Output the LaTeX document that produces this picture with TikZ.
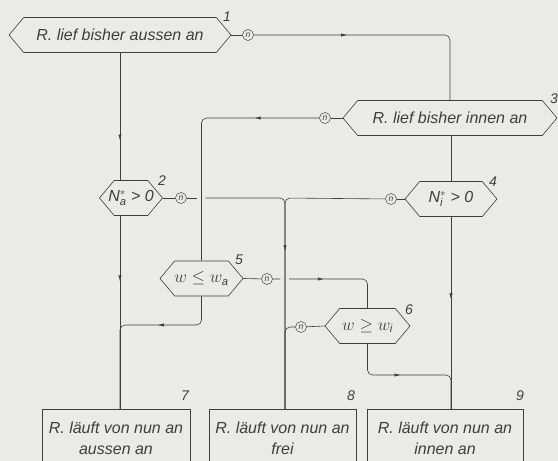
\documentclass[tikz,border=0pt]{standalone}
\usepackage{amsmath}
\usepackage{fontspec}
\setsansfont{Liberation Sans}
\usepackage{tikz}
\usetikzlibrary{arrows.meta,positioning,calc,shapes.symbols,decorations.markings}
\definecolor{paperbg}{RGB}{234,234,230}
\definecolor{inkgrey}{RGB}{62,62,62}
\tikzset{
  base/.style={font=\sffamily\itshape\fontsize{16}{21}\selectfont, text=inkgrey, align=center},
  hexa/.style={base, signal, signal to=west and east, signal pointer angle=100, draw=inkgrey, line width=0.6pt, minimum height=35pt, inner xsep=-8pt},
  outbox/.style={base, rectangle, draw=inkgrey, line width=0.6pt, anchor=north, inner ysep=13pt},
  nout/.style={circle, draw=inkgrey, line width=0.5pt, inner sep=0pt, minimum size=11pt, font=\sffamily\itshape\fontsize{8.5}{8.5}\selectfont, text=inkgrey},
  num/.style={font=\sffamily\itshape\fontsize{14}{14}\selectfont, text=inkgrey, inner sep=0pt},
  wire/.style={draw=inkgrey, line width=0.6pt, rounded corners=5pt},
  arr/.style={wire, postaction={decorate}, decoration={markings, mark=at position #1 with {\arrow{Latex[length=6pt,width=3.2pt]}}}},
}
\begin{document}
\begin{tikzpicture}[x=1pt,y=-1pt]
  \useasboundingbox (0,0) rectangle (558,461);
  \fill[paperbg] (0,0) rectangle (558,461);
  % decisions
  \node[hexa,minimum width=222pt] (n1) at (120,35) {R. lief bisher aussen an};
  \node[hexa,minimum width=214pt] (n3) at (450,118) {R. lief bisher innen an};
  \node[hexa,minimum width=63pt]  (n2) at (131,198) {N$^{*}_{\text{a}}$ > 0};
  \node[hexa,minimum width=92pt]  (n4) at (451,199) {N$^{*}_{\text{i}}$ > 0};
  \node[hexa,minimum width=83pt]  (n5) at (201.5,278.5) {$w \leq w_{\text{a}}$};
  \node[hexa,minimum width=85pt]  (n6) at (367.5,326) {$w \geq w_{\text{i}}$};
  % results
  \node[outbox,minimum width=148pt] (b7) at (116,409) {R. läuft von nun an\\aussen an};
  \node[outbox,minimum width=147pt] (b8) at (282.5,409) {R. läuft von nun an\\frei};
  \node[outbox,minimum width=156pt] (b9) at (445,409) {R. läuft von nun an\\innen an};
  % no-exits
  \node[nout] (c1) at (248,35) {n};
  \node[nout] (c3) at (325,118) {n};
  \node[nout] (c2) at (181,198) {n};
  \node[nout] (c4) at (391,199) {n};
  \node[nout] (c5) at (267,279) {n};
  \node[nout] (c6) at (301,327) {n};
  % numbers
  \node[num] (t1) at (227,17) {1};
  \node[num] (t2) at (162,181) {2};
  \node[num] (t3) at (554,99) {3};
  \node[num] (t4) at (493,182) {4};
  \node[num] (t5) at (239,260) {5};
  \node[num] (t6) at (409,310) {6};
  \node[num] (t7) at (185,396) {7};
  \node[num] (t8) at (351,396) {8};
  \node[num] (t9) at (520,396) {9};
  % helper points
  \coordinate (midcol) at (285,198);
  \coordinate (g2l) at ($(n5.north |- c2)+(-5,0)$);
  \coordinate (g2r) at ($(n5.north |- c2)+(4,0)$);
  \coordinate (g5l) at ($(midcol |- c5)+(-5,0)$);
  \coordinate (g5r) at ($(midcol |- c5)+(4,0)$);
  \coordinate (m5) at (120,325);
  \coordinate (m6) at (451,375);
  % connectors
  \draw[wire] (n1.east) -- (c1);
  \draw[arr=0.36] (c1) -| (n3.north);
  \draw[arr=0.69] (n1.south) -- (n1.south |- n2.north);
  \draw[wire] (n3.west) -- (c3);
  \draw[arr=0.25] (c3) -| (n5.north);
  \draw[wire] (n4.north |- n3.south) -- (n4.north);
  \draw[wire] (n2.east) -- (c2) -- (g2l);
  \draw[wire] (g2r) -- (midcol) -- (midcol |- b8.north);
  \draw[wire] (n4.west) -- (c4);
  \draw[arr=0.49] (c4) -- (midcol) -- (midcol |- b8.north);
  \draw[wire] (n6.west) -- (c6);
  \draw[wire] (c6) -- (midcol |- c6) -- (midcol |- b8.north);
  \draw[wire] (n5.east) -- (c5) -- (g5l);
  \draw[arr=0.33] (g5r) -- (n6.north |- g5r) -- (n6.north);
  \draw[arr=0.37] (n5.south) -- (n5.south |- m5) -- (m5) -- (m5 |- b7.north);
  \draw[arr=0.34] (n1.south |- n2.south) -- (n1.south |- b7.north);
  \draw[arr=0.43] (n6.south) -- (n6.south |- m6) -- (m6) -- (m6 |- b9.north);
  \draw[arr=0.43] (n4.south) -- (n4.south |- b9.north);
\end{tikzpicture}
\end{document}
